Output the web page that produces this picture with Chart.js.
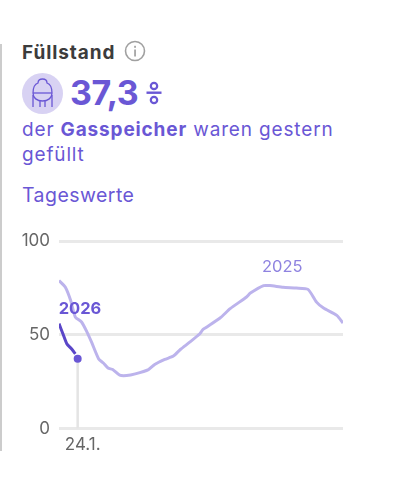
<!DOCTYPE html>
<html lang="de">
<head>
<meta charset="utf-8">
<title>Füllstand</title>
<script src="https://cdn.jsdelivr.net/npm/chart.js@4"></script>
<style>
  html, body { margin: 0; padding: 0; background: #fff; }
  body { width: 394px; height: 487px; position: relative; overflow: hidden; font-family: Inter, sans-serif; color: #6a57d5; }
  #rule { position: absolute; left: 0; top: 44px; width: 2px; height: 407px; background: #ccc; }
  #title { position: absolute; left: 22px; top: 41px; font-size: 19px; line-height: 24px; font-weight: 700; letter-spacing: 0.9px; color: #3c3c3c; }
  #info { position: absolute; left: 124px; top: 40px; }
  #icon { position: absolute; left: 22px; top: 73px; }
  #value { position: absolute; left: 70px; top: 71px; font-size: 34px; line-height: 44px; font-weight: 700; letter-spacing: -0.4px; }
  #pct { position: absolute; left: 146px; top: 80px; }
  #text { position: absolute; left: 22px; top: 117px; width: 330px; font-size: 19px; line-height: 25px; letter-spacing: 0.85px; }
  #daily { position: absolute; left: 22px; top: 183px; font-size: 19.5px; line-height: 25px; letter-spacing: 0.45px; }
  #wrap { position: absolute; left: 0; top: 222px; width: 394px; height: 229px; overflow: hidden; }
</style>
</head>
<body>
<div id="rule"></div>
<div id="title">Füllstand</div>
<svg id="info" width="23" height="23" viewBox="0 0 23 23">
  <circle cx="11" cy="11" r="9.5" fill="none" stroke="#a0a0a0" stroke-width="1.6"/>
  <rect x="10.2" y="9.5" width="1.7" height="7" fill="#a0a0a0"/>
  <rect x="10.2" y="5.8" width="1.7" height="2" fill="#a0a0a0"/>
</svg>
<svg id="icon" width="41" height="41" viewBox="0 0 41 41">
  <circle cx="20.5" cy="20.5" r="20.5" fill="#d8d2f3"/>
  <g fill="none" stroke="#6a57d5" stroke-width="1.3">
    <path d="M11 20 C11 14 13 11 16 10 C16 7 18 6 20.5 6 C23 6 25 7 25 10 C28 11 30 14 30 20 C30 25 26 28 20.5 28 C15 28 11 25 11 20 Z"/>
    <path d="M11 20 H30"/>
    <path d="M11 22 V34 M30 22 V34 M18 28 V34 M23 28 V34"/>
  </g>
</svg>
<div id="value">37,3</div>
<svg id="pct" width="16" height="26" viewBox="0 0 16 26">
  <g fill="none" stroke="#6a57d5" stroke-width="2.2">
    <circle cx="8" cy="6" r="3.2"/>
    <circle cx="8" cy="20" r="3.2"/>
  </g>
  <rect x="0.5" y="11.5" width="15" height="2.4" fill="#6a57d5"/>
</svg>
<div id="text">der <b>Gasspeicher</b> waren gestern gefüllt</div>
<div id="daily">Tageswerte</div>
<div id="wrap"><canvas id="myChart" width="394" height="232"></canvas></div>
<script>
// Werte, x = Tag im Jahr
const days2025 = [0, 8, 15, 21, 29, 36, 42, 51, 57, 63, 69, 78, 87, 98, 115, 123, 136, 147, 156, 168, 181, 185, 189, 207, 220, 241, 246, 263, 271, 288, 305, 320, 331, 340, 357, 365];
const values2025 = [79, 75.6, 68.4, 59.5, 56.9, 51.5, 46, 37.2, 35, 32.3, 31.5, 28.5, 28.3, 29.2, 31.5, 34.2, 36.9, 38.7, 42.2, 46.1, 50.6, 52.9, 54, 59, 64, 70.2, 72.3, 76.3, 76.3, 75.4, 75, 74.3, 67.5, 64.3, 60.4, 56.3];
const days2026 = [0, 5, 10, 16, 21];
const values2026 = [56, 50.6, 45.3, 42.6, 39.9];
const latestDay = 24;
const latestValue = 37.3;
const yTicks = [0, 50, 100];
const xTickLabel = '24.1.';

const toPoints = (xs, ys) => xs.map((x, i) => ({ x: x, y: ys[i] }));

// Beschriftung der Linien direkt im Diagramm
const lineLabels = {
    id: 'lineLabels',
    afterDatasetsDraw(chart) {
        const { ctx, scales } = chart;
        ctx.save();
        ctx.textAlign = 'center';
        ctx.textBaseline = 'middle';
        ctx.font = '16.5px Inter, sans-serif';
        ctx.fillStyle = '#8f83e0';
        ctx.fillText('2025', scales.x.getPixelForValue(287), scales.y.getPixelForValue(86));
        ctx.font = 'bold 16.5px Inter, sans-serif';
        ctx.fillStyle = '#6a57d5';
        ctx.fillText('2026', scales.x.getPixelForValue(27), scales.y.getPixelForValue(64));
        ctx.restore();
    }
};

new Chart(document.getElementById('myChart').getContext('2d'), {
    type: 'line',
    data: {
        datasets: [
            {
                // Hilfslinie vom letzten Wert bis zur Achse
                data: [{ x: latestDay, y: 0 }, { x: latestDay, y: latestValue }],
                borderColor: '#e4e4e4',
                borderWidth: 2.5,
                pointRadius: 0,
                order: 4
            },
            {
                label: '2025',
                data: toPoints(days2025, values2025),
                borderColor: '#bcb3ec',
                borderWidth: 3,
                pointRadius: 0,
                tension: 0.2,
                order: 3
            },
            {
                label: '2026',
                data: toPoints(days2026, values2026),
                borderColor: '#5a46c8',
                borderWidth: 3,
                pointRadius: 0,
                tension: 0.2,
                order: 2
            },
            {
                // Punkt fuer den aktuellen Wert
                data: [{ x: latestDay, y: latestValue }],
                showLine: false,
                pointRadius: 4,
                pointBackgroundColor: '#6a57d5',
                pointBorderWidth: 0,
                order: 1
            }
        ]
    },
    options: {
        responsive: false,
        animation: false,
        layout: { padding: { right: 51 } },
        plugins: { legend: { display: false }, tooltip: { enabled: false } },
        scales: {
            x: {
                type: 'linear',
                min: 0,
                max: 365,
                afterBuildTicks: axis => { axis.ticks = [{ value: latestDay }]; },
                ticks: {
                    callback: () => xTickLabel,
                    color: '#666',
                    font: { size: 17, family: 'Inter, sans-serif' },
                    maxRotation: 0,
                    padding: -1.5,
                    labelOffset: 5
                },
                grid: { display: false },
                border: { display: false }
            },
            y: {
                min: 0,
                max: 100,
                afterBuildTicks: axis => { axis.ticks = yTicks.map(v => ({ value: v })); },
                afterFit: axis => { axis.width = 59; },
                ticks: {
                    color: '#666',
                    font: { size: 17, family: 'Inter, sans-serif' },
                    padding: 9
                },
                grid: { color: '#e9e9e9', lineWidth: 3, drawTicks: false },
                border: { display: false }
            }
        }
    },
    plugins: [lineLabels]
});
</script>
</body>
</html>
